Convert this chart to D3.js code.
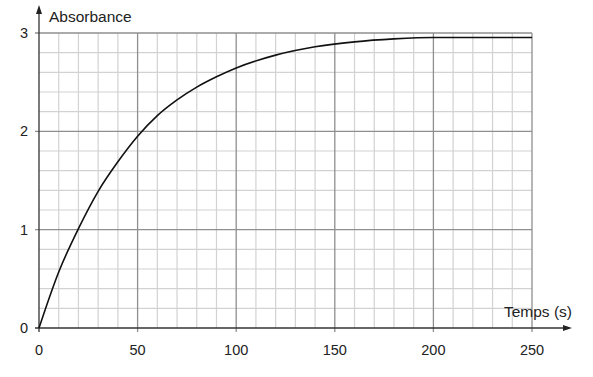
<!DOCTYPE html>
<html>
<head>
<meta charset="utf-8">
<script src="https://cdn.jsdelivr.net/npm/d3@7"></script>
<style>
  body { margin: 0; background: #fff; }
  text { font-family: "Liberation Sans", Arial, sans-serif; fill: #222; }
</style>
</head>
<body>
<svg id="chart" width="593" height="377"></svg>
<script>
    // temps (s) et absorbance
    var temps = [0, 10, 20, 30, 40, 50, 60, 70, 80, 90, 100, 120, 140, 160, 180, 200, 250];
    var absorbance = [0, 0.57, 1.01, 1.39, 1.69, 1.95, 2.16, 2.32, 2.45, 2.555, 2.645, 2.775, 2.86, 2.91, 2.94, 2.955, 2.955];
    var xTicks = [0, 50, 100, 150, 200, 250];
    var yTicks = [0, 1, 2, 3];

    var svg = d3.select("#chart");
    var marginLeft = 39, marginTop = 33;
    var width = 493, height = 295;

    var xScale = d3.scaleLinear().domain([0, 250]).range([0, width]);
    var yScale = d3.scaleLinear().domain([0, 3]).range([height, 0]);

    var g = svg.append("g").attr("transform", "translate(" + marginLeft + "," + marginTop + ")");

    // quadrillage fin
    var minorX = d3.range(10, 251, 10).filter(function (d) { return d % 50 !== 0; });
    var minorY = d3.range(1, 15).map(function (i) { return i * 0.2; }).filter(function (d, i) { return (i + 1) % 5 !== 0; });

    g.selectAll(".vminor").data(minorX).enter().append("line")
        .attr("x1", function (d) { return xScale(d); })
        .attr("x2", function (d) { return xScale(d); })
        .attr("y1", 0).attr("y2", height)
        .attr("stroke", "#d2d2d2").attr("stroke-width", 1.2);
    g.selectAll(".hminor").data(minorY).enter().append("line")
        .attr("y1", function (d) { return yScale(d); })
        .attr("y2", function (d) { return yScale(d); })
        .attr("x1", 0).attr("x2", width)
        .attr("stroke", "#d2d2d2").attr("stroke-width", 1.2);

    // quadrillage principal
    g.selectAll(".vmajor").data(xTicks.slice(1)).enter().append("line")
        .attr("x1", function (d) { return xScale(d); })
        .attr("x2", function (d) { return xScale(d); })
        .attr("y1", 0).attr("y2", height + 4)
        .attr("stroke", "#8f8f8f").attr("stroke-width", 1.3);
    g.selectAll(".hmajor").data(yTicks.slice(1)).enter().append("line")
        .attr("y1", function (d) { return yScale(d); })
        .attr("y2", function (d) { return yScale(d); })
        .attr("x1", -4).attr("x2", width)
        .attr("stroke", "#8f8f8f").attr("stroke-width", 1.3);

    // axes avec fleches
    g.append("line").attr("x1", 0).attr("x2", 0).attr("y1", height + 4).attr("y2", -22)
        .attr("stroke", "#333").attr("stroke-width", 1.3);
    g.append("path").attr("d", "M0,-28 L-3,-19 L3,-19 Z").attr("fill", "#222");
    g.append("line").attr("x1", -4).attr("x2", width + 33).attr("y1", height).attr("y2", height)
        .attr("stroke", "#333").attr("stroke-width", 1.3);
    g.append("path").attr("d", "M" + (width + 40) + "," + height + " L" + (width + 31) + "," + (height - 3) + " L" + (width + 31) + "," + (height + 3) + " Z")
        .attr("fill", "#222");

    // etiquettes
    g.selectAll(".xlab").data(xTicks).enter().append("text")
        .attr("x", function (d) { return xScale(d); })
        .attr("y", height + 27)
        .attr("text-anchor", "middle")
        .attr("font-size", 14.5)
        .text(function (d) { return d; });
    g.selectAll(".ylab").data(yTicks).enter().append("text")
        .attr("x", -11)
        .attr("y", function (d) { return yScale(d) + 5; })
        .attr("text-anchor", "end")
        .attr("font-size", 14.5)
        .text(function (d) { return d; });

    g.append("text").attr("x", 10).attr("y", -11).attr("font-size", 15.5).text("Absorbance");
    g.append("text").attr("x", width + 40).attr("y", height - 11).attr("text-anchor", "end")
        .attr("font-size", 15.5).text("Temps (s)");

    // courbe
    var points = temps.map(function (t, i) { return [t, absorbance[i]]; });
    var line = d3.line()
        .x(function (d) { return xScale(d[0]); })
        .y(function (d) { return yScale(d[1]); })
        .curve(d3.curveMonotoneX);
    g.append("path").datum(points)
        .attr("d", line)
        .attr("fill", "none")
        .attr("stroke", "#111")
        .attr("stroke-width", 1.6);
</script>
</body>
</html>
